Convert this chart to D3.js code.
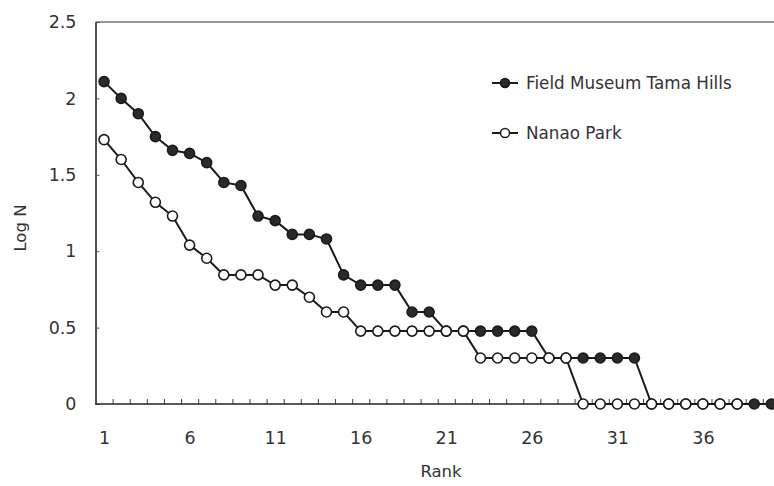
<!DOCTYPE html>
<html>
<head>
<meta charset="utf-8">
<script src="https://cdn.jsdelivr.net/npm/d3@7"></script>
<style>
  body { margin: 0; background: #fff; }
  text { font-family: "DejaVu Sans", "Noto Sans", sans-serif; fill: #333; }
</style>
</head>
<body>
<div id="chart"></div>
<script>
// ranks 1..40 on the x axis
var ranks = d3.range(1, 41);

// log abundance per rank
var tamaHills = [2.11, 2.0, 1.9, 1.75, 1.66, 1.64, 1.58, 1.45, 1.43, 1.23,
                 1.2, 1.11, 1.11, 1.08, 0.845, 0.778, 0.778, 0.778, 0.602, 0.602,
                 0.477, 0.477, 0.477, 0.477, 0.477, 0.477, 0.301, 0.301, 0.301, 0.301,
                 0.301, 0.301, 0, 0, 0, 0, 0, 0, 0, 0];
var nanaoPark = [1.73, 1.6, 1.45, 1.32, 1.23, 1.04, 0.954, 0.845, 0.845, 0.845,
                 0.778, 0.778, 0.699, 0.602, 0.602, 0.477, 0.477, 0.477, 0.477, 0.477,
                 0.477, 0.477, 0.301, 0.301, 0.301, 0.301, 0.301, 0.301, 0, 0,
                 0, 0, 0, 0, 0, 0, 0, 0];

var yTicks = [0, 0.5, 1, 1.5, 2, 2.5];
var xLabels = [1, 6, 11, 16, 21, 26, 31, 36];

var W = 774, H = 486;
var margin = {top: 22, left: 95.5, bottom: 82};
var step = 17.11;

var svg = d3.select("#chart").append("svg")
  .attr("width", W).attr("height", H);

// scales
var x = d3.scaleLinear().domain([0.5, ranks.length + 0.5])
  .range([margin.left, margin.left + step * ranks.length]);
var y = d3.scaleLinear().domain([0, 2.5]).range([H - margin.bottom, margin.top]);

// frame: top line
svg.append("line")
  .attr("x1", margin.left).attr("x2", W)
  .attr("y1", y(2.5)).attr("y2", y(2.5))
  .attr("stroke", "#333").attr("stroke-width", 1.2);

// y axis
var yAxis = d3.axisLeft(y).tickValues(yTicks).tickSizeInner(-4).tickSizeOuter(0)
  .tickPadding(19).tickFormat(function(d) { return d; });
var gy = svg.append("g").attr("transform", "translate(" + margin.left + ",0)").call(yAxis);
gy.select(".domain").attr("stroke", "#222").attr("stroke-width", 1.6);
gy.selectAll(".tick line").attr("stroke", "#555");
gy.selectAll("text").attr("font-size", 17.5).style("fill", "#333");

// x axis: small ticks between ranks
var minor = d3.range(1.5, ranks.length, 1);
var gxm = svg.append("g").attr("transform", "translate(0," + y(0) + ")")
  .call(d3.axisTop(x).tickValues(minor).tickSize(5).tickFormat(""));
gxm.select(".domain").remove();
gxm.selectAll(".tick line").attr("stroke", "#444");

var gx = svg.append("g").attr("transform", "translate(0," + y(0) + ")")
  .call(d3.axisBottom(x).tickValues(xLabels).tickSize(0).tickPadding(28));
gx.select(".domain").attr("d", "M" + margin.left + ",0H" + W).attr("stroke", "#222").attr("stroke-width", 1.6);
gx.selectAll("text").attr("font-size", 17.5).style("fill", "#333");

// axis titles
svg.append("text").attr("x", 441).attr("y", 477)
  .attr("text-anchor", "middle").attr("font-size", 16.5).text("Rank");
svg.append("text").attr("transform", "translate(26,228) rotate(-90)")
  .attr("text-anchor", "middle").attr("font-size", 16.5).text("Log N");

var line = d3.line().x(function(d) { return x(d.r); }).y(function(d) { return y(d.v); });

function series(vals, filled) {
  var data = vals.map(function(v, i) { return {r: ranks[i], v: v}; });
  svg.append("path").datum(data)
    .attr("d", line).attr("fill", "none")
    .attr("stroke", "#1a1a1a").attr("stroke-width", 2);
  svg.selectAll(null).data(data).enter().append("circle")
    .attr("cx", function(d) { return x(d.r); })
    .attr("cy", function(d) { return y(d.v); })
    .attr("r", 5)
    .attr("fill", filled ? "#2a2a2a" : "#fff")
    .attr("stroke", "#1a1a1a").attr("stroke-width", 1.6);
}

series(tamaHills, true);
series(nanaoPark, false);

// legend
var legend = [
  {name: "Field Museum Tama Hills", filled: true, y: 83},
  {name: "Nanao Park", filled: false, y: 133}
];
legend.forEach(function(l) {
  svg.append("line").attr("x1", 492).attr("x2", 518).attr("y1", l.y).attr("y2", l.y)
    .attr("stroke", "#1a1a1a").attr("stroke-width", 2);
  svg.append("circle").attr("cx", 505).attr("cy", l.y).attr("r", 4.5)
    .attr("fill", l.filled ? "#2a2a2a" : "#fff")
    .attr("stroke", "#1a1a1a").attr("stroke-width", 1.5);
  svg.append("text").attr("x", 526).attr("y", l.y + 6)
    .attr("font-size", 16.8).text(l.name);
});
</script>
</body>
</html>
